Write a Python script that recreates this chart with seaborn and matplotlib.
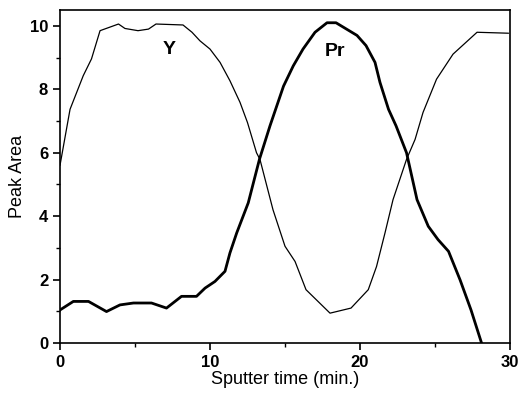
import pandas as pd
import matplotlib.pyplot as plt
import seaborn as sns
from matplotlib.ticker import MultipleLocator

# Y signal (thin line)
y_time = [0, 0.67, 1.55, 2.1, 2.67, 3.9, 4.33, 5.2, 5.9, 6.4, 8.2, 8.8, 9.33, 10.0,
          10.67, 11.33, 12.0, 12.5, 13.1, 13.33, 14.2, 15.0, 15.67, 16.4, 17.2, 18.0,
          19.4, 20.55, 21.1, 21.67, 22.2, 23.1, 23.67, 24.2, 25.1, 26.2, 27.8, 29.9]
y_area = [5.6, 7.37, 8.43, 8.96, 9.85, 10.06, 9.92, 9.85, 9.9, 10.06, 10.03, 9.8, 9.53, 9.27,
          8.85, 8.27, 7.59, 6.95, 6.0, 5.79, 4.2, 3.05, 2.57, 1.68, 1.31, 0.94,
          1.1, 1.68, 2.41, 3.48, 4.52, 5.79, 6.42, 7.27, 8.32, 9.11, 9.8, 9.77]

# Pr signal (thick line)
pr_time = [0, 0.89, 1.9, 3.1, 4.0, 4.9, 6.1, 7.1, 8.1, 9.1, 9.67, 10.33, 11.0, 11.33,
           11.78, 12.55, 13.3, 14.0, 14.9, 15.55, 16.2, 17.0, 17.8, 18.4, 19.8, 20.4,
           21.0, 21.33, 21.9, 22.4, 23.1, 23.8, 24.55, 25.2, 25.9, 26.67, 27.4, 28.1]
pr_area = [1.04, 1.31, 1.31, 0.99, 1.2, 1.26, 1.26, 1.1, 1.47, 1.47, 1.73, 1.94, 2.26, 2.84,
           3.47, 4.42, 5.8, 6.85, 8.1, 8.74, 9.27, 9.8, 10.1, 10.1, 9.7, 9.38,
           8.85, 8.22, 7.37, 6.85, 6.0, 4.52, 3.68, 3.26, 2.89, 1.99, 1.04, 0.0]

y_df = pd.DataFrame({"time": y_time, "area": y_area})
pr_df = pd.DataFrame({"time": pr_time, "area": pr_area})

sns.set_style("ticks")
plt.rcParams["font.family"] = ["Liberation Sans", "DejaVu Sans"]
plt.rcParams["text.color"] = "black"
plt.rcParams["axes.labelcolor"] = "black"
plt.rcParams["xtick.color"] = "black"
plt.rcParams["ytick.color"] = "black"

fig = plt.figure(figsize=(5.23, 4.03), dpi=100)
ax = fig.add_axes([0.1147, 0.149, 0.8605, 0.826])

sns.lineplot(data=y_df, x="time", y="area", color="black", linewidth=0.9,
             sort=False, estimator=None, ax=ax)
sns.lineplot(data=pr_df, x="time", y="area", color="black", linewidth=2.0,
             sort=False, estimator=None, ax=ax)

ax.text(7.3, 9.25, "Y", fontsize=14, fontweight="bold", ha="center", va="center")
ax.text(18.3, 9.2, "Pr", fontsize=14, fontweight="bold", ha="center", va="center")

ax.set_xlim(0, 30)
ax.set_ylim(0, 10.5)
ax.xaxis.set_major_locator(MultipleLocator(10))
ax.xaxis.set_minor_locator(MultipleLocator(5))
ax.yaxis.set_major_locator(MultipleLocator(2))
ax.yaxis.set_minor_locator(MultipleLocator(1))
ax.tick_params(which="major", length=5, width=1.2, labelsize=12, color="black")
ax.tick_params(which="minor", length=3, width=1.0, color="black")
for lab in ax.get_xticklabels() + ax.get_yticklabels():
    lab.set_fontweight("bold")
for sp in ax.spines.values():
    sp.set_linewidth(1.2)
    sp.set_color("black")

ax.set_xlabel("Sputter time (min.)", fontsize=13, labelpad=1)
ax.set_ylabel("Peak Area", fontsize=13, labelpad=3)

fig.savefig("out.png", dpi=100)
